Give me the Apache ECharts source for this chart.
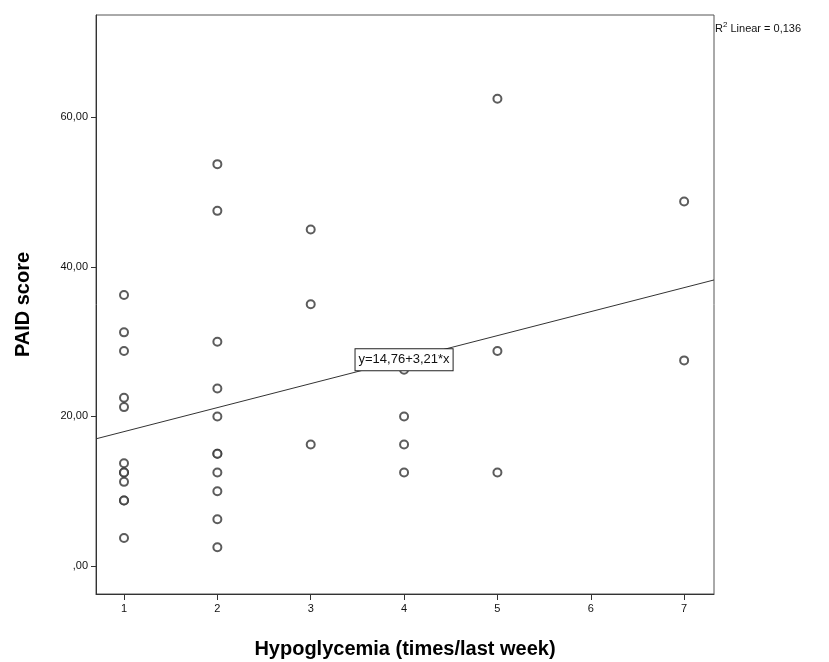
<!DOCTYPE html>
<html>
<head>
<meta charset="utf-8">
<script src="https://cdn.jsdelivr.net/npm/echarts@6/dist/echarts.min.js"></script>
<style>
  html, body { margin: 0; padding: 0; background: #fff; }
  #main { width: 829px; height: 662px; }
</style>
</head>
<body>
<div id="main"></div>
<script>
// hypoglycemia episodes (x) and PAID score (y)
var hypoX = [1, 1, 1, 1, 1, 1, 1, 1, 1, 1, 1, 1,
             2, 2, 2, 2, 2, 2, 2, 2, 2, 2, 2,
             3, 3, 3,
             4, 4, 4, 4,
             5, 5, 5,
             7, 7];
var paidY = [36.25, 31.25, 28.75, 22.5, 21.25, 13.75, 12.5, 12.5, 11.25, 8.75, 8.75, 3.75,
             53.75, 47.5, 30, 23.75, 20, 15, 15, 12.5, 10, 6.25, 2.5,
             45, 35, 16.25,
             26.25, 20, 16.25, 12.5,
             62.5, 28.75, 12.5,
             48.75, 27.5];
var xTicks = [1, 2, 3, 4, 5, 6, 7];
var yTicks = [0, 20, 40, 60];
// fitted line as printed on the chart
var fitIntercept = 14.76;
var fitSlope = 3.21;
var fitLabel = "y=14,76+3,21*x";
var r2Text = "0,136";

var xMin = 0.7, xMax = 7.32;

var points = hypoX.map(function (x, i) { return [x, paidY[i]]; });
var fitLine = [xMin, xMax].map(function (x) { return [x, fitIntercept + fitSlope * x]; });

var myChart = echarts.init(document.getElementById("main"));
var txt = "#111";
var option = {
  animation: false,
  backgroundColor: "#fff",
  textStyle: { fontFamily: "Liberation Sans, Arial, sans-serif" },
  grid: {
    left: 96, right: 115, top: 15, bottom: 68,
    outerBoundsMode: "none",
    show: true, borderColor: "#555", borderWidth: 1
  },
  xAxis: {
    type: "value",
    min: xMin, max: xMax,
    name: "Hypoglycemia (times/last week)",
    nameLocation: "middle",
    nameGap: 45,
    nameTextStyle: { fontSize: 20, fontWeight: "bold", color: "#000" },
    splitLine: { show: false },
    axisLine: { show: true, onZero: false, lineStyle: { color: "#333" } },
    axisTick: { show: true, length: 6, customValues: xTicks, lineStyle: { color: "#333" } },
    axisLabel: { customValues: xTicks, fontSize: 11, color: txt, margin: 9 }
  },
  yAxis: {
    type: "value",
    min: -3.75, max: 73.7,
    name: "PAID score",
    nameLocation: "middle",
    nameRotate: 90,
    nameGap: 63,
    nameTextStyle: { fontSize: 20, fontWeight: "bold", color: "#000" },
    splitLine: { show: false },
    axisLine: { show: true, onZero: false, lineStyle: { color: "#333" } },
    axisTick: { show: true, length: 5, customValues: yTicks, lineStyle: { color: "#333" } },
    axisLabel: {
      customValues: yTicks, fontSize: 11, color: txt, margin: 8,
      formatter: function (v) {
        return v === 0 ? ",00" : v.toFixed(2).replace(".", ",");
      }
    }
  },
  series: [
    {
      type: "line",
      data: fitLine,
      showSymbol: false,
      lineStyle: { color: "#333", width: 1 },
      z: 2
    },
    {
      type: "scatter",
      data: points,
      symbol: "emptyCircle",
      symbolSize: 8,
      itemStyle: { color: "#333", borderColor: "#333", borderWidth: 1.4 },
      z: 3
    },
    {
      type: "scatter",
      data: [[4, fitIntercept + fitSlope * 4]],
      symbol: "rect",
      symbolSize: 1,
      itemStyle: { color: "#fff" },
      label: {
        show: true,
        position: "inside",
        formatter: fitLabel,
        fontSize: 13,
        color: "#111",
        opacity: 1,
        backgroundColor: "#fff",
        borderColor: "#222",
        borderWidth: 1,
        padding: [4, 3, 4, 3]
      },
      z: 10
    }
  ],
  graphic: [
    {
      type: "text",
      left: 715, top: 21,
      style: {
        text: "{a|R}{s|2}{a| Linear = " + r2Text + "}",
        rich: {
          a: { fontSize: 11, fill: "#111", fontFamily: "Liberation Sans, Arial, sans-serif", verticalAlign: "bottom" },
          s: { fontSize: 8, fill: "#111", fontFamily: "Liberation Sans, Arial, sans-serif", verticalAlign: "top", padding: [0, 0, 5, 0] }
        }
      }
    }
  ]
};
myChart.setOption(option);
</script>
</body>
</html>
